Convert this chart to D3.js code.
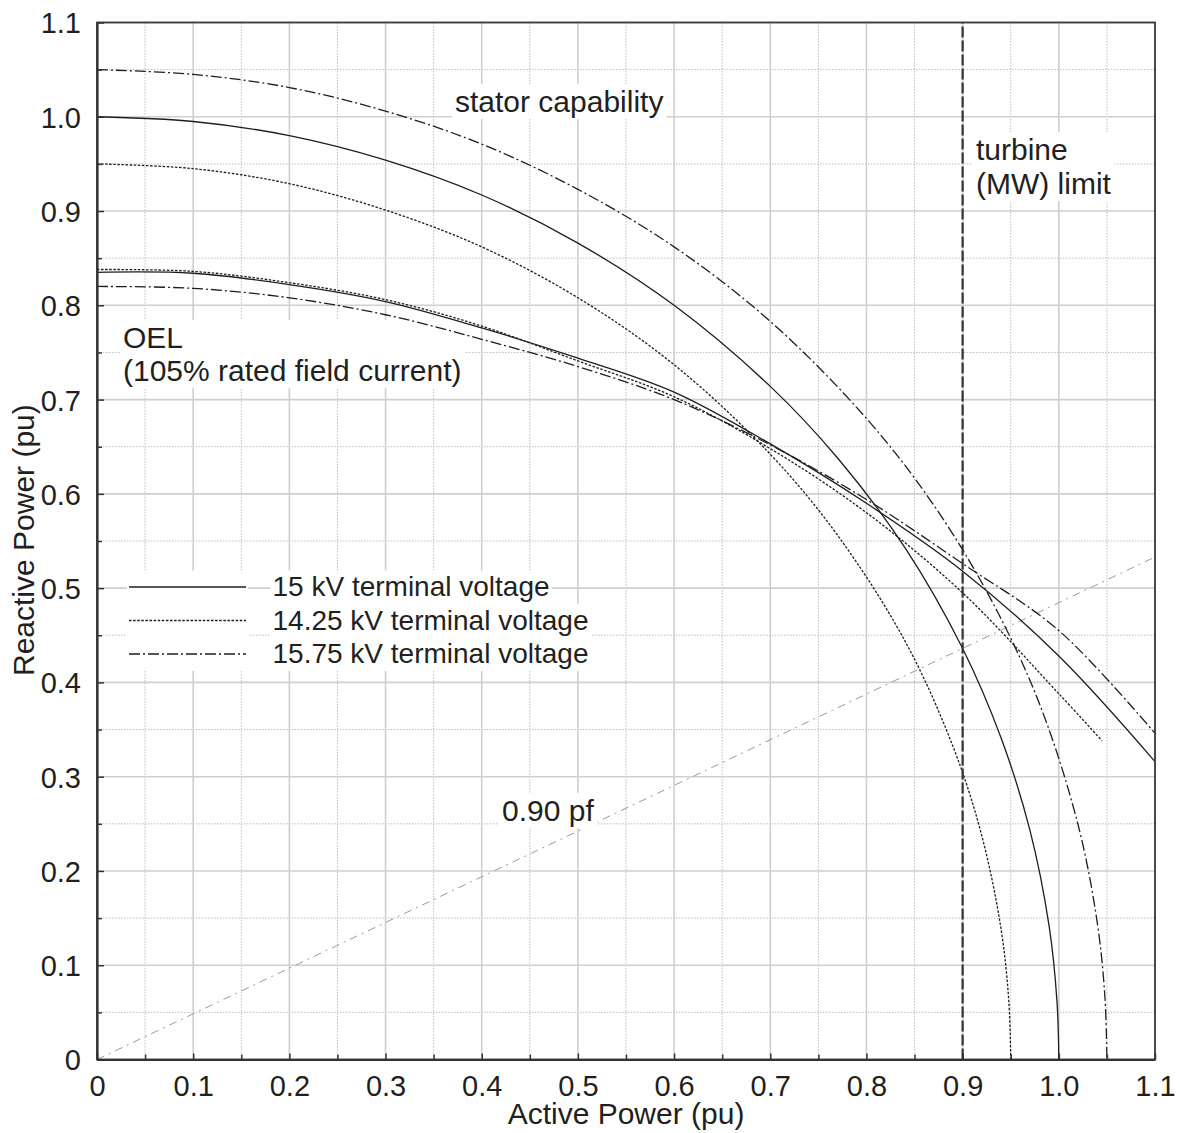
<!DOCTYPE html>
<html>
<head>
<meta charset="utf-8">
<script src="https://cdn.jsdelivr.net/npm/d3@7"></script>
<style>
  body { margin: 0; background: #fff; }
  text { font-family: "Liberation Sans", Arial, Helvetica, sans-serif; fill: #231f20; }
</style>
</head>
<body>
<div id="chart"></div>
<script>
// axis ticks
const majorTicks = [0, 0.1, 0.2, 0.3, 0.4, 0.5, 0.6, 0.7, 0.8, 0.9, 1.0, 1.1];
const tickLabels = ["0", "0.1", "0.2", "0.3", "0.4", "0.5", "0.6", "0.7", "0.8", "0.9", "1.0", "1.1"];
const minorTicks = [0.05, 0.15, 0.25, 0.35, 0.45, 0.55, 0.65, 0.75, 0.85, 0.95, 1.05];

// stator capability curves [P, Q]
const stator15 = [[0, 1.000], [0.1, 0.995], [0.2, 0.980], [0.3, 0.954], [0.4, 0.917], [0.5, 0.866],
    [0.6, 0.800], [0.7, 0.714], [0.77, 0.638], [0.84, 0.543], [0.9, 0.436], [0.94, 0.341],
    [0.97, 0.243], [0.99, 0.141], [0.998, 0.063], [1.0, 0]];
const stator1425 = [[0, 0.950], [0.1, 0.945], [0.2, 0.929], [0.3, 0.901], [0.4, 0.862], [0.5, 0.808],
    [0.6, 0.737], [0.7, 0.642], [0.77, 0.556], [0.84, 0.444], [0.89, 0.332], [0.92, 0.237],
    [0.94, 0.138], [0.948, 0.062], [0.95, 0]];
const stator1575 = [[0, 1.050], [0.1, 1.045], [0.2, 1.031], [0.3, 1.006], [0.4, 0.971], [0.5, 0.923],
    [0.6, 0.862], [0.7, 0.783], [0.8, 0.680], [0.87, 0.588], [0.93, 0.487], [0.98, 0.377],
    [1.02, 0.249], [1.04, 0.145], [1.048, 0.065], [1.05, 0]];

// OEL curves (105% rated field current)
const oel15 = [[0, 0.835], [0.1, 0.834], [0.2, 0.822], [0.3, 0.804], [0.4, 0.776], [0.5, 0.744],
    [0.6, 0.708], [0.7, 0.653], [0.8, 0.590], [0.9, 0.518], [1.0, 0.428], [1.1, 0.316]];
const oel1425 = [[0, 0.838], [0.1, 0.836], [0.2, 0.824], [0.3, 0.806], [0.4, 0.778], [0.5, 0.741],
    [0.6, 0.703], [0.7, 0.648], [0.8, 0.580], [0.9, 0.495], [1.0, 0.388], [1.045, 0.338]];
const oel1575 = [[0, 0.820], [0.1, 0.818], [0.2, 0.808], [0.3, 0.790], [0.4, 0.764], [0.5, 0.735],
    [0.6, 0.700], [0.7, 0.652], [0.8, 0.594], [0.9, 0.526], [1.0, 0.455], [1.1, 0.346]];

// 0.90 power factor line and turbine limit
const pfLine = [[0, 0], [1.1, 0.533]];
const turbineLine = [[0.9, 0], [0.9, 1.1]];

const legendLabels = ["15 kV terminal voltage", "14.25 kV terminal voltage", "15.75 kV terminal voltage"];
const styles = [
    { dash: null },
    { dash: "2.5,1.6" },
    { dash: "11,3,2,3" }
];

const width = 1180, height = 1133;
const margin = { top: 22.5, right: 25, bottom: 73.5, left: 97 };

const svg = d3.select("#chart").append("svg")
    .attr("width", width)
    .attr("height", height);

const x = d3.scaleLinear().domain([0, 1.1]).range([margin.left, width - margin.right]);
const y = d3.scaleLinear().domain([0, 1.1]).range([height - margin.bottom, margin.top]);

// grid
const grid = svg.append("g");
grid.selectAll(".vmin").data(minorTicks).join("line")
    .attr("x1", d => x(d)).attr("x2", d => x(d))
    .attr("y1", y(0)).attr("y2", y(1.1))
    .attr("stroke", "#bdbdbd").attr("stroke-width", 1).attr("stroke-dasharray", "1.5,1.5");
grid.selectAll(".hmin").data(minorTicks).join("line")
    .attr("y1", d => y(d)).attr("y2", d => y(d))
    .attr("x1", x(0)).attr("x2", x(1.1))
    .attr("stroke", "#bdbdbd").attr("stroke-width", 1).attr("stroke-dasharray", "1.5,1.5");
grid.selectAll(".vmaj").data(majorTicks).join("line")
    .attr("x1", d => x(d)).attr("x2", d => x(d))
    .attr("y1", y(0)).attr("y2", y(1.1))
    .attr("stroke", "#cfcfcf").attr("stroke-width", 1.6);
grid.selectAll(".hmaj").data(majorTicks).join("line")
    .attr("y1", d => y(d)).attr("y2", d => y(d))
    .attr("x1", x(0)).attr("x2", x(1.1))
    .attr("stroke", "#cfcfcf").attr("stroke-width", 1.6);

const line = d3.line()
    .x(d => x(d[0]))
    .y(d => y(d[1]))
    .curve(d3.curveCatmullRom.alpha(0.5));

// pf line under the labels
svg.append("path")
    .datum(pfLine)
    .attr("fill", "none")
    .attr("stroke", "#9a9a9a")
    .attr("stroke-width", 1)
    .attr("stroke-dasharray", "8,5,2,5")
    .attr("d", d3.line().x(d => x(d[0])).y(d => y(d[1])));

// text labels with white boxes
function boxedText(lines, tx, ty, lh, size) {
    const g = svg.append("g");
    const rect = g.append("rect").attr("fill", "#fff");
    const t = g.append("text")
        .attr("font-size", size);
    lines.forEach((s, i) => {
        t.append("tspan").attr("x", tx).attr("y", ty + i * lh).text(s);
    });
    const bb = t.node().getBBox();
    rect.attr("x", bb.x - 3).attr("y", bb.y - 1)
        .attr("width", bb.width + 6).attr("height", bb.height + 2);
}

boxedText(["stator capability"], 455, 112, 0, 30);
boxedText(["turbine", "(MW) limit"], 976, 160, 34, 30);
boxedText(["OEL", "(105% rated field current)"], 123, 348, 33, 30);
boxedText(["0.90 pf"], 502, 821, 0, 30);

// legend
const legendRows = [587, 620.5, 654];
legendLabels.forEach((lab, i) => {
    const g = svg.append("g");
    g.append("rect")
        .attr("x", 127).attr("y", legendRows[i] - 16.5)
        .attr("width", 121).attr("height", 33.5)
        .attr("fill", "#fff");
    const bg = g.append("rect").attr("fill", "#fff");
    const t = g.append("text")
        .attr("x", 272.5).attr("y", legendRows[i] + 9)
        .attr("font-size", 28)
        .text(lab);
    const bb = t.node().getBBox();
    bg.attr("x", bb.x - 2).attr("y", legendRows[i] - 16.5)
        .attr("width", bb.width + 4).attr("height", 33.5);
    g.append("line")
        .attr("x1", 129).attr("x2", 246)
        .attr("y1", legendRows[i]).attr("y2", legendRows[i])
        .attr("stroke", "#1e1e1e")
        .attr("stroke-width", 1.3)
        .attr("stroke-dasharray", styles[i].dash);
});

// curves
const series = [
    [stator15, oel15],
    [stator1425, oel1425],
    [stator1575, oel1575]
];
series.forEach((pair, i) => {
    pair.forEach(data => {
        svg.append("path")
            .datum(data)
            .attr("fill", "none")
            .attr("stroke", "#1e1e1e")
            .attr("stroke-width", 1.3)
            .attr("stroke-dasharray", styles[i].dash)
            .attr("d", line);
    });
});

// turbine limit
svg.append("path")
    .datum(turbineLine)
    .attr("fill", "none")
    .attr("stroke", "#333")
    .attr("stroke-width", 2.2)
    .attr("stroke-dasharray", "11,3")
    .attr("d", d3.line().x(d => x(d[0])).y(d => y(d[1])));

// frame
svg.append("rect")
    .attr("x", x(0)).attr("y", y(1.1))
    .attr("width", x(1.1) - x(0)).attr("height", y(0) - y(1.1))
    .attr("fill", "none")
    .attr("stroke", "#3a3a3a")
    .attr("stroke-width", 1.8);

// axes
const xAxis = svg.append("g")
    .attr("transform", `translate(0,${y(0)})`)
    .call(d3.axisBottom(x).tickValues(majorTicks).tickSizeInner(-6).tickSizeOuter(0)
        .tickFormat((d, i) => tickLabels[i]));
xAxis.select(".domain").attr("stroke", "#333").attr("stroke-width", 2.2);
xAxis.selectAll(".tick line").attr("stroke", "#333").attr("stroke-width", 1.5);
xAxis.selectAll(".tick text")
    .attr("y", 36.5).attr("dy", 0)
    .attr("font-size", 29)
    .attr("font-family", null)
    .attr("fill", "#231f20");
svg.append("g")
    .attr("transform", `translate(0,${y(0)})`)
    .call(d3.axisBottom(x).tickValues(minorTicks).tickSizeInner(-5).tickSizeOuter(0).tickFormat(""))
    .call(g => g.select(".domain").remove())
    .selectAll(".tick line").attr("stroke", "#333").attr("stroke-width", 1.5);

const yAxis = svg.append("g")
    .attr("transform", `translate(${x(0)},0)`)
    .call(d3.axisLeft(y).tickValues(majorTicks).tickSizeInner(-7).tickSizeOuter(0)
        .tickFormat((d, i) => tickLabels[i]));
yAxis.select(".domain").attr("stroke", "#333").attr("stroke-width", 2.2);
yAxis.selectAll(".tick line").attr("stroke", "#333").attr("stroke-width", 1.5);
yAxis.selectAll(".tick text")
    .attr("x", -16).attr("dy", "0.36em")
    .attr("font-size", 29)
    .attr("font-family", null)
    .attr("fill", "#231f20");
svg.append("g")
    .attr("transform", `translate(${x(0)},0)`)
    .call(d3.axisLeft(y).tickValues(minorTicks).tickSizeInner(-5).tickSizeOuter(0).tickFormat(""))
    .call(g => g.select(".domain").remove())
    .selectAll(".tick line").attr("stroke", "#333").attr("stroke-width", 1.5);

// axis titles
svg.append("text")
    .attr("x", (x(0) + x(1.1)) / 2)
    .attr("y", 1124)
    .attr("text-anchor", "middle")
    .attr("font-size", 30)
    .text("Active Power (pu)");

svg.append("text")
    .attr("transform", "rotate(-90)")
    .attr("x", -676)
    .attr("y", 34)
    .attr("text-anchor", "start")
    .attr("font-size", 30)
    .text("Reactive Power (pu)");
</script>
</body>
</html>
